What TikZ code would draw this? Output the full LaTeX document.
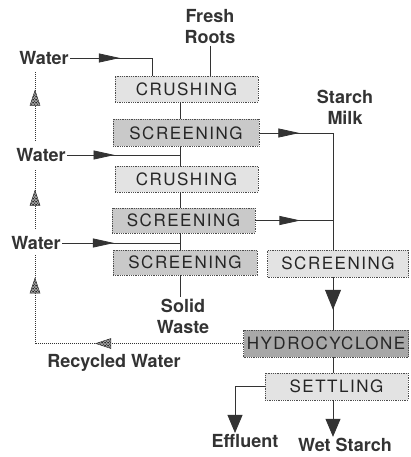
\documentclass[tikz,border=0pt]{standalone}
\usepackage{fontspec}
\setmainfont{TeX Gyre Heros}
\newfontfamily\unitfont[LetterSpace=9]{TeX Gyre Heros}
\usetikzlibrary{arrows.meta,decorations.markings,patterns}

\begin{document}
\begin{tikzpicture}[
  x=1pt, y=-1pt,
  line width=0.8pt,
  black!80,
  unit/.style={
    draw=black!70,
    densely dotted,
    fill=gray!22,
    text=black!85,
    minimum width=143pt,
    minimum height=26pt,
    inner sep=0pt,
    font=\unitfont\fontsize{17}{17}\selectfont
  },
  screenbox/.style={unit, fill=gray!42},
  cyclonebox/.style={unit, fill=gray!68},
  label/.style={
    align=center,
    inner sep=1pt,
    text=black!80,
    font=\bfseries\fontsize{18}{21}\selectfont
  },
  feed/.style={
    postaction={
      decorate,
      decoration={
        markings,
        mark=at position #1 with {\arrow{Triangle[length=21pt,width=9pt]}}
      }
    }
  },
  bigfeed/.style={
    postaction={
      decorate,
      decoration={
        markings,
        mark=at position #1 with {\arrow{Triangle[length=20pt,width=16pt]}}
      }
    }
  },
  outflow/.style={-{Triangle[length=18pt,width=15pt]}},
  recycle/.style={densely dotted, line width=1pt},
  hatchtip/.style={
    postaction={
      decorate,
      decoration={
        markings,
        mark=at position #1 with {
          \fill[gray!70]
            (0,0) -- (-15pt,5pt) -- (-15pt,-5pt) -- cycle;
          \fill[pattern=crosshatch, pattern color=black]
            (0,0) -- (-15pt,5pt) -- (-15pt,-5pt) -- cycle;
          \draw[solid, line width=0.5pt]
            (0,0) -- (-15pt,5pt) -- (-15pt,-5pt) -- cycle;
        }
      }
    }
  }
]
  \useasboundingbox (0,0) rectangle (410,457);

  \node[unit] (crush1) at (186.5,89) {CRUSHING};
  \node[screenbox, minimum width=146pt, minimum height=27pt] (screen1) at (186,133) {SCREENING};
  \node[unit] (crush2) at (186.5,179) {CRUSHING};
  \node[screenbox, minimum height=25pt] (screen2) at (183.5,220.5) {SCREENING};
  \node[screenbox, minimum width=144pt, minimum height=25pt] (screen3) at (185,262.5) {SCREENING};
  \node[unit, minimum width=141pt, minimum height=27pt] (screen4) at (338,263.5) {SCREENING};
  \node[cyclonebox, minimum width=165pt, minimum height=27pt] (hydro) at (326,343.5) {HYDROCYCLONE};
  \node[unit, minimum height=27pt] (settle) at (336.5,386.5) {SETTLING};

  \node[label] (roots) at (210,27) {Fresh\\Roots};
  \node[label] (milk) at (345,107) {Starch\\Milk};
  \node[label] (solid) at (183,316) {Solid\\Waste};
  \node[label] (water1) at (44,58) {Water};
  \node[label] (water2) at (41,155) {Water};
  \node[label] (water3) at (36,243) {Water};
  \node[label] (recycled) at (114,363) {Recycled Water};
  \node[label] (effluent) at (245,441) {Effluent};
  \node[label] (wetstarch) at (345,445) {Wet Starch};

  \coordinate (axis) at (180,0);
  \coordinate (milkaxis) at (333,0);
  \coordinate (recaxis) at (35,0);
  \coordinate (inlet) at (152,0);

  \draw (roots.south) -- (crush1.north -| roots.south);
  \draw[feed=0.5] (water1) -- (water1 -| inlet) -- (crush1.north -| inlet);
  \draw[feed=0.42] (water2) -- (water2 -| axis);
  \draw[feed=0.44] (water3) -- (water3 -| axis);
  \foreach \a/\b in {crush1/screen1, screen1/crush2, crush2/screen2, screen2/screen3, screen3/solid}
    \draw (\a.south -| axis) -- (\b.north -| axis);

  \draw[feed=0.21] (screen1) -| (screen4.north -| milkaxis);
  \draw[feed=0.58] (screen2) -- (screen2 -| milkaxis);
  \draw[bigfeed=0.62] (screen4.south -| milkaxis) -- (hydro.north -| milkaxis);
  \draw (hydro.south -| milkaxis) -- (settle.north -| milkaxis);
  \draw[outflow] (settle.south -| milkaxis) -- (wetstarch.north -| milkaxis);
  \draw[outflow] (settle.west) -| ([xshift=-10pt]effluent.north);

  \draw[recycle, hatchtip=0.49, hatchtip=0.91, shorten >=4pt] (hydro.west) -| (water3.south -| recaxis);
  \draw[recycle, hatchtip=0.62, shorten <=6pt, shorten >=6pt] (water3.north -| recaxis) -- (water2.south -| recaxis);
  \draw[recycle, hatchtip=0.7, shorten <=6pt, shorten >=6pt] (water2.north -| recaxis) -- (water1.south -| recaxis);
\end{tikzpicture}
\end{document}
